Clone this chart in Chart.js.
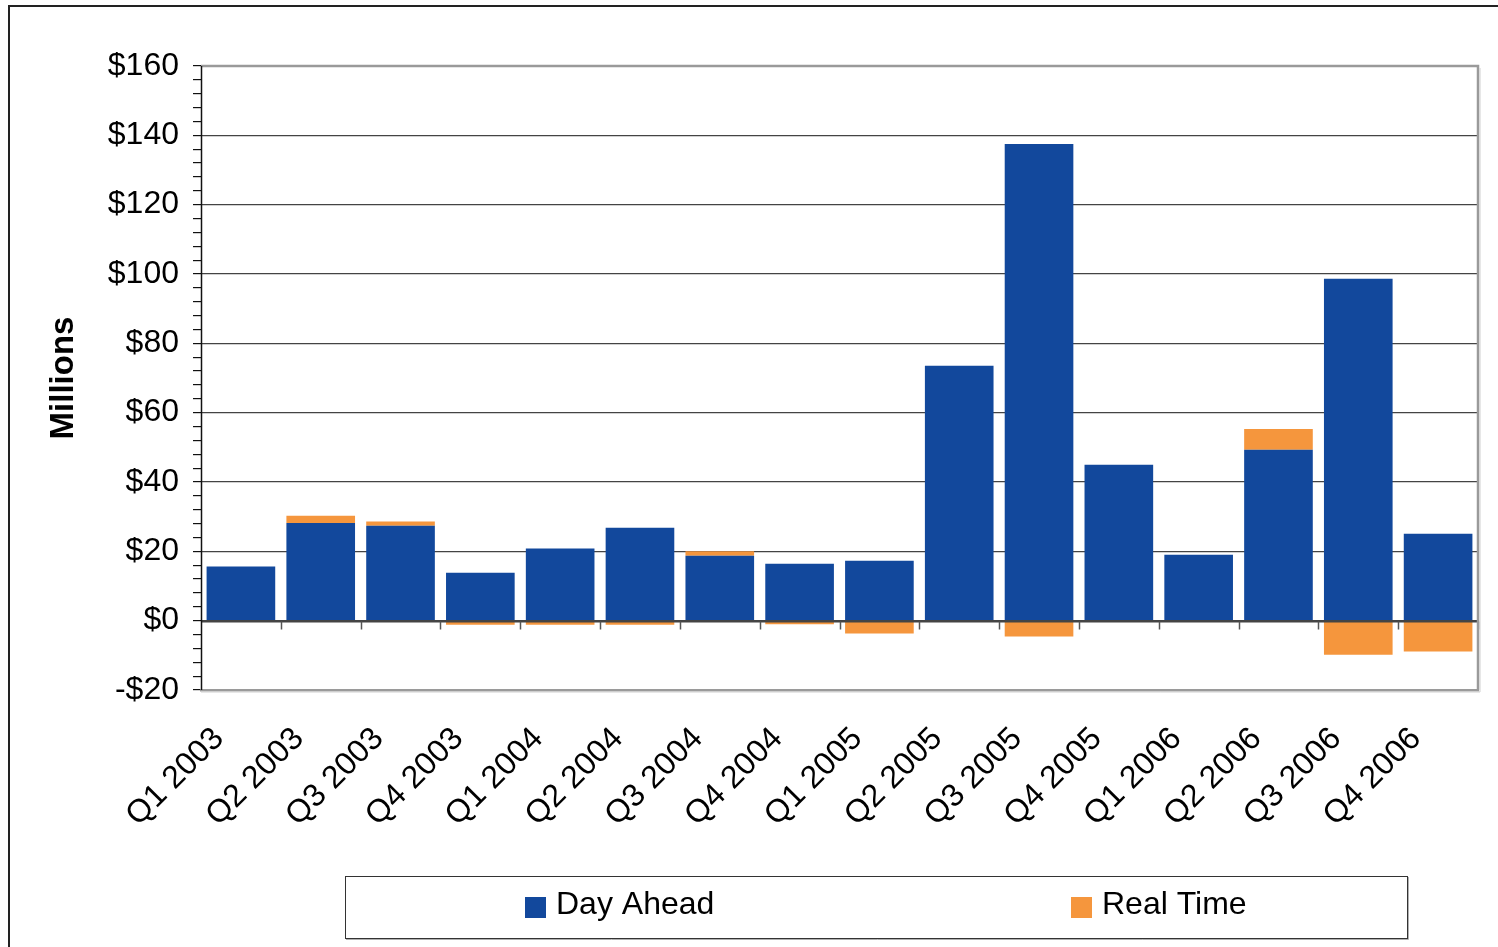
<!DOCTYPE html>
<html>
<head>
<meta charset="utf-8">
<script src="https://cdn.jsdelivr.net/npm/chart.js@4/dist/chart.umd.min.js"></script>
<style>
  html, body { margin: 0; padding: 0; background: #fff; }
  #wrap { width: 1498px; height: 947px; position: relative; }
</style>
</head>
<body>
<div id="wrap"><canvas id="c" width="1498" height="947"></canvas></div>
<script>
// Quarterly values in $ millions
const quarters = ['Q1 2003','Q2 2003','Q3 2003','Q4 2003','Q1 2004','Q2 2004','Q3 2004','Q4 2004',
                  'Q1 2005','Q2 2005','Q3 2005','Q4 2005','Q1 2006','Q2 2006','Q3 2006','Q4 2006'];
const dayAhead = [15.6, 28.2, 27.4, 13.8, 20.8, 26.8, 18.7, 16.4, 17.3, 73.5, 137.5, 45.0, 19.0, 49.3, 98.6, 25.1];
const realTime = [0, 2.1, 1.2, -1.2, -1.2, -1.2, 1.3, -1.0, -3.7, 0, -4.6, 0, 0, 6.0, -9.8, -8.9];
const yMin = -20, yMax = 160, yMajor = 20, yMinor = 4;

const FONT = '"Liberation Sans", Arial, sans-serif';
const BLUE = '#12489C';
const ORANGE = '#F5963D';

function money(v) { return v < 0 ? '-$' + Math.abs(v) : '$' + v; }
function isMajor(v) { return Math.abs(v % yMajor) < 1e-6; }

// Frame, plot border, category ticks on the zero line and the boxed legend
const decorations = {
  id: 'decorations',
  beforeDraw(chart) {
    const ctx = chart.ctx;
    ctx.save();
    ctx.fillStyle = '#fff';
    ctx.fillRect(0, 0, chart.width, chart.height);
    ctx.restore();
  },
  afterDatasetsDraw(chart) {
    const ctx = chart.ctx;
    const a = chart.chartArea;
    const y = chart.scales.y;
    ctx.save();
    // zero line
    const y0 = Math.round(y.getPixelForValue(0)) + 0.5;
    ctx.strokeStyle = '#444';
    ctx.lineWidth = 2;
    ctx.beginPath(); ctx.moveTo(a.left, y0); ctx.lineTo(a.right, y0); ctx.stroke();
    // category boundary ticks hanging below the zero line
    ctx.strokeStyle = '#555';
    ctx.lineWidth = 1.5;
    const step = (a.right - a.left) / quarters.length;
    for (let i = 1; i <= quarters.length; i++) {
      const px = Math.round(a.left + i * step) + 0.5;
      ctx.beginPath(); ctx.moveTo(px, y0); ctx.lineTo(px, y0 + 8); ctx.stroke();
    }
    // plot border: top and right grey
    ctx.strokeStyle = '#9a9a9a';
    ctx.lineWidth = 2.5;
    ctx.beginPath();
    ctx.moveTo(a.left, a.top); ctx.lineTo(a.right, a.top); ctx.lineTo(a.right, a.bottom);
    ctx.stroke();
    ctx.strokeStyle = '#d0d0d0';
    ctx.lineWidth = 1;
    ctx.beginPath();
    ctx.moveTo(a.right + 2, a.top + 2); ctx.lineTo(a.right + 2, a.bottom + 2); ctx.lineTo(a.left, a.bottom + 2);
    ctx.stroke();
    // left axis line
    ctx.strokeStyle = '#111';
    ctx.lineWidth = 1.5;
    ctx.beginPath(); ctx.moveTo(a.left + 0.5, a.top); ctx.lineTo(a.left + 0.5, a.bottom); ctx.stroke();
    ctx.restore();
  },
  afterDraw(chart) {
    const ctx = chart.ctx;
    ctx.save();
    // outer frame
    ctx.strokeStyle = '#222';
    ctx.lineWidth = 2;
    ctx.beginPath();
    ctx.moveTo(9, chart.height); ctx.lineTo(9, 6); ctx.lineTo(chart.width, 6);
    ctx.stroke();
    // legend box
    const L = { x: 345, y: 876, w: 1062, h: 62 };
    ctx.strokeStyle = '#b0b0b0';
    ctx.lineWidth = 1;
    ctx.beginPath(); ctx.moveTo(L.x + 1, L.y + L.h + 1.5); ctx.lineTo(L.x + L.w + 1.5, L.y + L.h + 1.5);
    ctx.lineTo(L.x + L.w + 1.5, L.y + 1); ctx.stroke();
    ctx.strokeStyle = '#333';
    ctx.strokeRect(L.x + 0.5, L.y + 0.5, L.w, L.h);
    const items = [{ x: 525 }, { x: 1071 }];
    ctx.font = '32px ' + FONT;
    ctx.textBaseline = 'middle';
    ctx.textAlign = 'left';
    chart.data.datasets.forEach((ds, i) => {
      const sx = items[i].x;
      ctx.fillStyle = ds.backgroundColor;
      ctx.fillRect(sx, 897, 21, 21);
      ctx.fillStyle = '#000';
      ctx.fillText(ds.label, sx + 31, 905);
    });
    ctx.restore();
  }
};

new Chart(document.getElementById('c'), {
  type: 'bar',
  data: {
    labels: quarters,
    datasets: [
      { label: 'Day Ahead', data: dayAhead, backgroundColor: BLUE, borderWidth: 0 },
      { label: 'Real Time', data: realTime, backgroundColor: ORANGE, borderWidth: 0 }
    ]
  },
  options: {
    responsive: false,
    animation: false,
    devicePixelRatio: 1,
    layout: { padding: { left: 0, top: 66, right: 20, bottom: 117 } },
    datasets: { bar: { categoryPercentage: 1.0, barPercentage: 0.86 } },
    plugins: { legend: { display: false }, tooltip: { enabled: false } },
    scales: {
      x: {
        stacked: true,
        grid: { display: false, drawTicks: false },
        border: { display: true, color: '#9a9a9a', width: 2.5 },
        ticks: {
          color: '#000',
          font: { family: FONT, size: 32 },
          minRotation: 45, maxRotation: 45,
          autoSkip: false,
          padding: 30,
          labelOffset: -22
        },
        afterFit(s) { s.height = 140; }
      },
      y: {
        stacked: true,
        min: yMin, max: yMax,
        afterBuildTicks(s) {
          const t = [];
          for (let v = yMin; v <= yMax; v += yMinor) t.push({ value: v });
          s.ticks = t;
        },
        grid: {
          color: (c) => (isMajor(c.tick.value) && c.tick.value !== yMin && c.tick.value !== yMax) ? '#444' : 'rgba(0,0,0,0)',
          lineWidth: 1.2,
          tickColor: '#111',
          tickLength: 8,
          drawTicks: true
        },
        border: { display: false },
        ticks: {
          autoSkip: false,
          color: '#000',
          font: { family: FONT, size: 32 },
          padding: 14,
          callback: (v) => isMajor(v) ? money(v) : ''
        },
        title: {
          display: true,
          text: 'Millions',
          color: '#000',
          font: { family: FONT, size: 33, weight: 'bold' },
          padding: { top: 44, bottom: 0 }
        },
        afterFit(s) { s.width = 201; }
      }
    }
  },
  plugins: [decorations]
});
</script>
</body>
</html>
